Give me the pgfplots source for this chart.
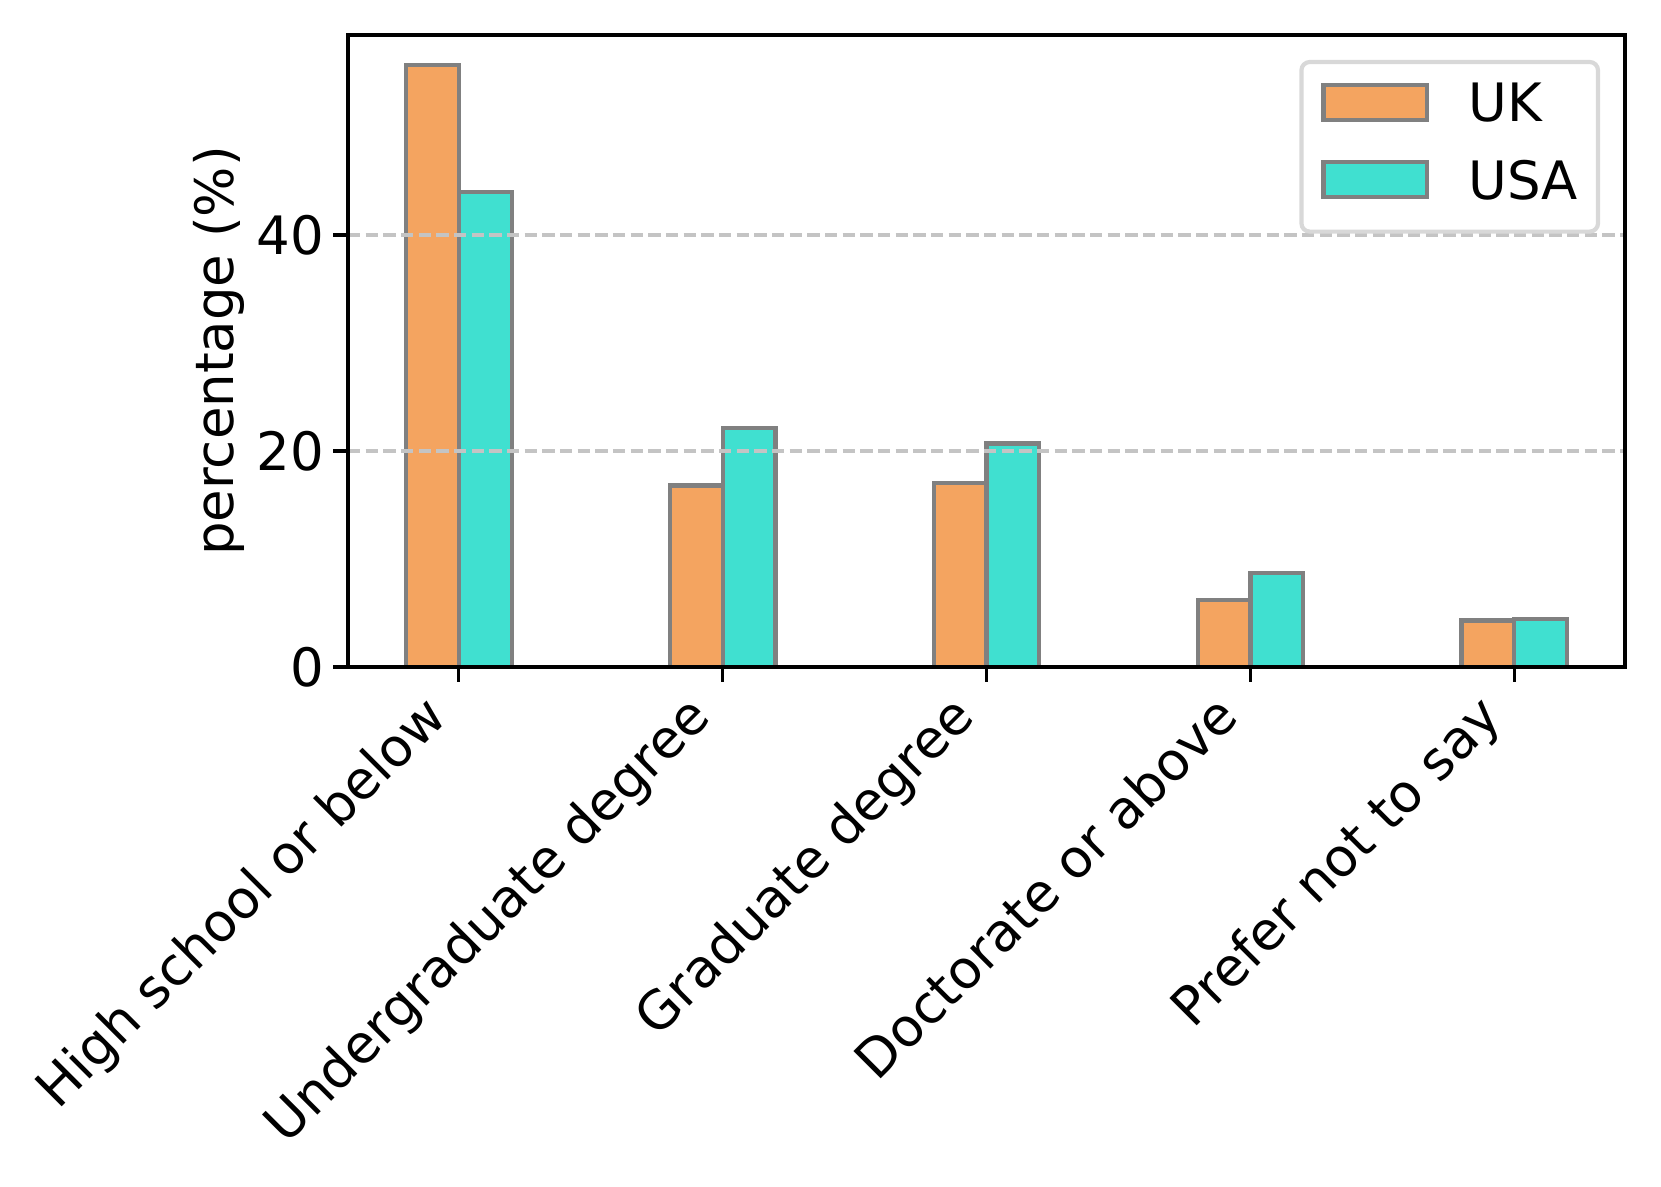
\documentclass[border=0pt]{standalone}
\usepackage{fontspec}
\setmainfont{DejaVu Sans}
\usepackage{pgfplots}
\pgfplotsset{compat=1.18}

\definecolor{ukc}{HTML}{F4A460}
\definecolor{usac}{HTML}{40E0D0}
\definecolor{edgec}{HTML}{808080}
\definecolor{gridc}{HTML}{C4C4C4}
\definecolor{legc}{HTML}{D8D8D8}

\begin{document}
\begin{tikzpicture}[font=\fontsize{12.7}{15.2}\selectfont]
\useasboundingbox (-83.52pt,-124.56pt) rectangle (315.12pt,160.08pt);
\begin{axis}[
    scale only axis,
    width=306.5pt, height=151.7pt,
    xmin=-0.42, xmax=4.42,
    ymin=0, ymax=58.52,
    xtick={0,1,2,3,4},
    xticklabels={High school or below, Undergraduate degree, Graduate degree, Doctorate or above, Prefer not to say},
    ytick={0,20,40},
    /pgf/number format/assume math mode=true,
    tick pos=left,
    tick align=outside,
    major tick length=3.5pt,
    tick style={black, line width=0.8pt},
    axis line style={black, line width=0.8pt},
    axis on top,
    ymajorgrids,
    grid style={gridc, line width=0.8pt, dash pattern=on 2.96pt off 1.28pt},
    xticklabel style={rotate=45, anchor=south east, inner sep=0pt, text height=9.65pt, text depth=3.05pt},
    xticklabel shift=11.3pt,
    yticklabel style={inner sep=0pt},
    yticklabel shift=2.1pt,
    ylabel={percentage (\%)},
    ylabel style={at={(axis description cs:-0.09,0.5)}, anchor=base},
    legend cell align=left,
    legend style={at={(1,1)}, anchor=north east, xshift=-6pt, yshift=-6pt,
        draw=legc, line width=1pt, rounded corners=2pt, fill=white,
        inner xsep=4.8pt, inner ysep=5pt, row sep=6.45pt, column sep=9.4pt,
        nodes={inner sep=0pt, text height=9.26pt, text depth=2.8pt}},
    legend image code/.code={\draw[#1, line width=1pt, sharp corners] (0pt,-2.8pt) rectangle (24.9pt,5.6pt);},
]
\addplot[ybar, bar width=0.2, bar shift=-0.1, fill=ukc, draw=edgec, line width=1pt]
    coordinates {(0,55.7) (1,16.8) (2,17.0) (3,6.2) (4,4.3)};
\addplot[ybar, bar width=0.2, bar shift=0.1, fill=usac, draw=edgec, line width=1pt]
    coordinates {(0,44.0) (1,22.1) (2,20.7) (3,8.7) (4,4.45)};
\legend{UK, USA}
\end{axis}
\end{tikzpicture}
\end{document}
